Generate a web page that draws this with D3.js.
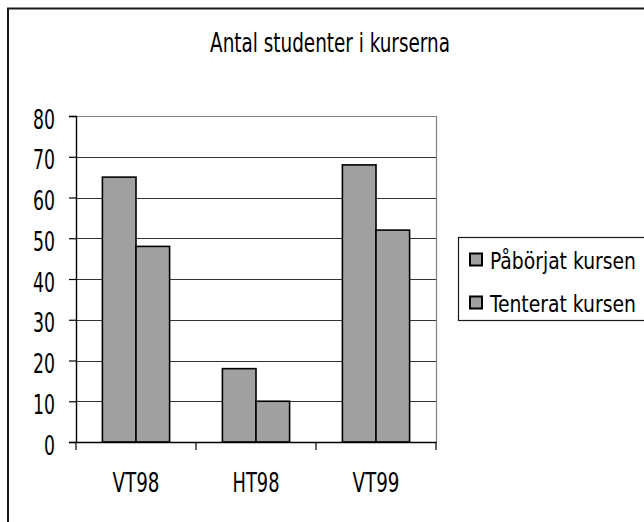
<!DOCTYPE html>
<html>
<head>
<meta charset="utf-8">
<script src="https://cdn.jsdelivr.net/npm/d3@7"></script>
<style>
  html, body { margin: 0; padding: 0; background: #fff; }
  svg { display: block; }
  text { font-family: "Liberation Sans Narrow", "Arial Narrow", "DejaVu Sans Condensed", "DejaVu Sans", sans-serif; fill: #000; }
</style>
</head>
<body>
<svg id="chart" width="644" height="522"></svg>
<script>
const title = "Antal studenter i kurserna";
const categories = ["VT98", "HT98", "VT99"];
const seriesNames = ["Påbörjat kursen", "Tenterat kursen"];
const paborjat = [65, 18, 68];
const tenterat = [48, 10, 52];
const yTicks = [0, 10, 20, 30, 40, 50, 60, 70, 80];

const seriesValues = [paborjat, tenterat];
const svg = d3.select("#chart");
const fontSize = 26;
const legendFontSize = 23;

// place a text at (x,y) and squeeze it horizontally to a target width (narrow font look)
function placeNarrow(sel, x, y, width) {
  sel.each(function(d, i) {
    const t = d3.select(this);
    const xx = typeof x === "function" ? x(d, i) : x;
    const yy = typeof y === "function" ? y(d, i) : y;
    const w = typeof width === "function" ? width(d, i, this) : width;
    t.attr("x", 0).attr("y", 0).attr("dy", null);
    const natural = this.getComputedTextLength();
    const k = natural > 0 ? w / natural : 1;
    t.attr("transform", `translate(${xx},${yy}) scale(${k},1)`);
  });
}

// outer frame
svg.append("rect")
  .attr("x", 8).attr("y", 8.5)
  .attr("width", 700).attr("height", 600)
  .attr("fill", "none").attr("stroke", "#1a1a1a").attr("stroke-width", 2);

// title
svg.append("text")
  .attr("text-anchor", "middle")
  .attr("font-size", fontSize)
  .text(title)
  .call(placeNarrow, 330, 52, 240);

const plot = { left: 76, right: 436, top: 116, bottom: 442 };

const x0 = d3.scaleBand().domain(categories).range([plot.left, plot.right]).padding(0);
const x1 = d3.scaleBand().domain(seriesNames)
  .range([x0.bandwidth() * 0.22, x0.bandwidth() * 0.78]).padding(0);
const y = d3.scaleLinear().domain([0, 80]).range([plot.bottom, plot.top]);

// gridlines
svg.append("g").selectAll("line").data(yTicks.filter(d => d > 0)).join("line")
  .attr("x1", plot.left).attr("x2", plot.right)
  .attr("y1", d => Math.round(y(d)) + 0.5).attr("y2", d => Math.round(y(d)) + 0.5)
  .attr("stroke", d => d === 80 ? "#808080" : "#333").attr("stroke-width", 1.2);

// right border of plot area
svg.append("line")
  .attr("x1", plot.right + 0.5).attr("x2", plot.right + 0.5)
  .attr("y1", plot.top).attr("y2", plot.bottom)
  .attr("stroke", "#808080").attr("stroke-width", 1.2);

// bars
const groups = svg.append("g").selectAll("g").data(categories).join("g")
  .attr("transform", d => `translate(${x0(d)},0)`);
groups.selectAll("rect")
  .data((c, i) => seriesNames.map((s, j) => ({ s, v: seriesValues[j][i] })))
  .join("rect")
  .attr("x", d => x1(d.s))
  .attr("width", x1.bandwidth())
  .attr("y", d => y(d.v))
  .attr("height", d => y(0) - y(d.v))
  .attr("fill", "#a0a0a0")
  .attr("stroke", "#000").attr("stroke-width", 1.6);

// y axis
const yAxis = d3.axisLeft(y).tickValues(yTicks).tickSize(7).tickPadding(14);
const gy = svg.append("g").attr("transform", `translate(${plot.left},0)`).call(yAxis);
gy.select(".domain").attr("stroke", "#000").attr("stroke-width", 1.4);
gy.selectAll(".tick line").attr("stroke", "#000").attr("stroke-width", 1.2);
gy.selectAll(".tick text").attr("font-size", fontSize).attr("font-family", null)
  .call(placeNarrow, -21, 12, function(d, i, el) { return el.textContent.length * 11; });

// x axis
const xAxis = d3.axisBottom(x0).tickSize(0).tickPadding(32);
const gx = svg.append("g").attr("transform", `translate(0,${plot.bottom})`).call(xAxis);
gx.select(".domain").attr("stroke", "#000").attr("stroke-width", 1.6);
gx.selectAll(".tick text").attr("font-size", fontSize).attr("font-family", null)
  .call(placeNarrow, 0, 50, 47);
// category separator ticks
const boundaries = categories.map(c => x0(c)).concat([x0(categories[categories.length - 1]) + x0.bandwidth()]);
svg.append("g").selectAll("line").data(boundaries).join("line")
  .attr("x1", d => d).attr("x2", d => d)
  .attr("y1", plot.bottom).attr("y2", plot.bottom + 8)
  .attr("stroke", "#000").attr("stroke-width", 1.2);

// legend
const lg = svg.append("g");
lg.append("rect")
  .attr("x", 458.5).attr("y", 237.5).attr("width", 300).attr("height", 83)
  .attr("fill", "#fff").attr("stroke", "#1a1a1a").attr("stroke-width", 1.2);
seriesNames.forEach((s, i) => {
  const cy = 260 + i * 43;
  lg.append("rect")
    .attr("x", 470).attr("y", cy - 6.5).attr("width", 12).attr("height", 12)
    .attr("fill", "#a0a0a0").attr("stroke", "#000").attr("stroke-width", 2);
  lg.append("text")
    .attr("font-size", legendFontSize)
    .text(s)
    .call(placeNarrow, 490, cy + 9, 146);
});
</script>
</body>
</html>
